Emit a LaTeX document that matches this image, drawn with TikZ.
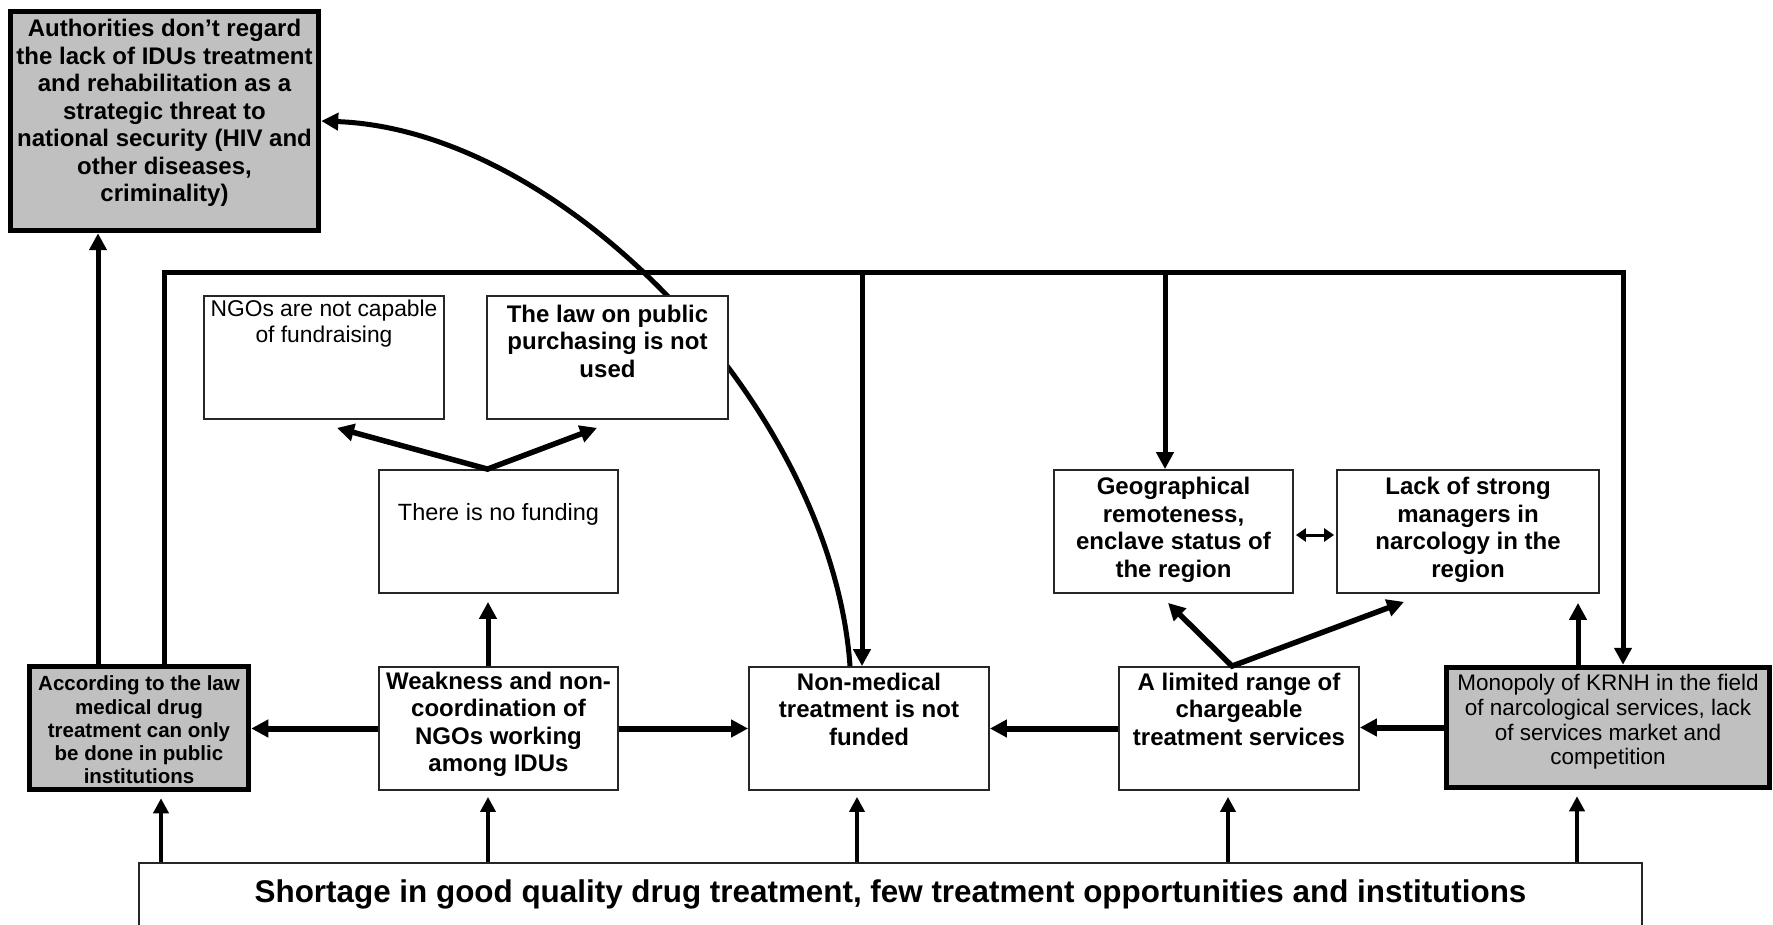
\documentclass[tikz,border=0pt]{standalone}
\usepackage{fontspec}
\setmainfont{Liberation Sans}
\usetikzlibrary{arrows.meta,calc}
\definecolor{boxgray}{HTML}{C0C0C0}
\begin{document}
\begin{tikzpicture}[x=1pt,y=-1pt,
  wbox/.style={draw=black!85, line width=1.8pt, fill=white, inner sep=0pt},
  gbox/.style={draw=black, line width=5.5pt, fill=boxgray, inner sep=0pt},
  tb/.style={font=\fontsize{24}{27.5}\selectfont\bfseries, align=center, inner sep=0pt},
  tr/.style={font=\fontsize{22.8}{26}\selectfont, align=center, inner sep=0pt},
  tacc/.style={font=\fontsize{20.5}{23.3}\selectfont\bfseries, align=center, inner sep=0pt},
  tmono/.style={font=\fontsize{22.5}{24.7}\selectfont, align=center, inner sep=0pt},
  tbig/.style={font=\fontsize{31.4}{36}\selectfont\bfseries, inner sep=0pt},
  tip/.style={-{Triangle[length=17pt,width=17pt]}},
  arr/.style={line width=5pt, tip},
  arrh/.style={line width=6pt, tip},
  arrv/.style={line width=5.5pt, {Triangle[length=17pt,width=17pt]}-{Triangle[length=17pt,width=17pt]}},
  arrb/.style={line width=4.5pt, -{Triangle[length=15pt,width=15pt]}, shorten >=6pt},
  dbl/.style={line width=3pt, {Triangle[length=10pt,width=13pt]}-{Triangle[length=10pt,width=13pt]}, shorten >=2pt, shorten <=2pt},
  bus/.style={line width=4.5pt}
]
\useasboundingbox (0,0) rectangle (1773,925);
\fill[white] (0,0) rectangle (1773,925);
\clip (0,0) rectangle (1773,925);

% ---- boxes ----
\node[gbox, minimum width=308, minimum height=219] (auth) at (164.5,121) {};
\node[wbox, minimum width=240, minimum height=123] (ngo) at (324,357.5) {};
\node[wbox, minimum width=239, minimum height=123] (fund) at (498.5,531.5) {};
\node[wbox, minimum width=239, minimum height=123] (geo) at (1173.5,531.5) {};
\node[wbox, minimum width=262, minimum height=123] (lack) at (1468,531.5) {};
\node[gbox, minimum width=219, minimum height=123] (acc) at (139,728) {};
\node[wbox, minimum width=239, minimum height=123] (weak) at (498.5,728.5) {};
\node[wbox, minimum width=240, minimum height=123] (nonmed) at (869,728.5) {};
\node[wbox, minimum width=240, minimum height=123] (lim) at (1239,728.5) {};
\node[gbox, minimum width=323, minimum height=120] (mono) at (1608,727.5) {};
\node[wbox, minimum width=1503, minimum height=90] (short) at (890.5,908) {};

% ---- curved link, passing under the public purchasing box ----
\draw[arr] ($(nonmed.north)+(-19,0)$) .. controls (832,410) and (565,130) .. (auth.east);
\node[wbox, minimum width=241, minimum height=123] (law) at (607.5,357.5) {};

% ---- texts ----
\node[tb] (authT) at (164.5,113) {Authorities don’t regard\\the lack of IDUs treatment\\and rehabilitation as a\\strategic threat to\\national security (HIV and\\other diseases,\\criminality)};
\node[tr] (ngoT) at (324,324) {NGOs are not capable\\of fundraising};
\node[tb] (lawT) at (607.5,341) {The law on public\\purchasing is not\\used};
\node[tr, font=\fontsize{23.5}{26}\selectfont] (fundT) at (498.5,514) {There is no funding};
\node[tb] (geoT) at (1173.5,530) {Geographical\\remoteness,\\enclave status of\\the region};
\node[tb] (lackT) at (1468,530) {Lack of strong\\managers in\\narcology in the\\region};
\node[tacc] (accT) at (139,730) {According to the law\\medical drug\\treatment can only\\be done in public\\institutions};
\node[tb] (weakT) at (498.5,724.5) {Weakness and non-\\coordination of\\NGOs working\\among IDUs};
\node[tb] (nonmedT) at (869,709) {Non-medical\\treatment is not\\funded};
\node[tb] (limT) at (1239,709) {A limited range of\\chargeable\\treatment services};
\node[tmono] (monoT) at (1608,722) {Monopoly of KRNH in the field\\of narcological services, lack\\of services market and\\competition};
\node[tbig, anchor=base] (shortT) at (890.5,902) {Shortage in good quality drug treatment, few treatment opportunities and institutions};

% ---- reference positions for vertical links ----
\coordinate (busy) at (0,273);
\coordinate (xa) at (98,0);
\coordinate (xb) at (164,0);
\coordinate (xc) at (862,0);
\coordinate (xd) at (1165,0);
\coordinate (xe) at (1623,0);
\coordinate (xf) at (488,0);
\coordinate (xg) at (1578,0);
\coordinate (ly) at (0,535);

% ---- connectors ----
\draw[arr] (acc.north -| xa) -- (auth.south -| xa);
\draw[arr, line join=miter] (acc.north -| xb) -- (xb |- busy) -- (xe |- busy) -- (mono.north -| xe);
\draw[arr] (xc |- busy) -- (nonmed.north -| xc);
\draw[arr] (xd |- busy) -- (geo.north -| xd);

\draw[arrv] ($(ngo.south)+(13,8)$) -- ($(fund.north)+(-11,0)$) -- ($(law.south)+(-10.5,8)$);
\draw[arr, shorten >=8pt] (weak.north -| xf) -- (fund.south -| xf);

\draw[arrh] (weak.west) -- (acc.east |- weak.west);
\draw[arrh] (weak.east) -- (nonmed.west);
\draw[arrh] (lim.west) -- (nonmed.east);
\draw[arrh] (mono.west) -- (lim.east |- mono.west);

\draw[arrv] ($(geo.south)+(-5.5,9)$) -- ($(lim.north)+(-7,0)$) -- ($(lack.south)+(-64,8)$);
\draw[dbl] (geo.east |- ly) -- (lack.west |- ly);
\draw[arr, shorten >=9pt] (mono.north -| xg) -- (lack.south -| xg);

% ---- links from the base problem ----
\draw[arrb] (short.north -| 161,0) -- (acc.south -| 161,0);
\draw[arrb] (short.north -| xf) -- (weak.south -| xf);
\draw[arrb] (short.north -| 857,0) -- (nonmed.south -| 857,0);
\draw[arrb] (short.north -| 1228,0) -- (lim.south -| 1228,0);
\draw[arrb] (short.north -| 1577,0) -- (mono.south -| 1577,0);
\end{tikzpicture}
\end{document}
